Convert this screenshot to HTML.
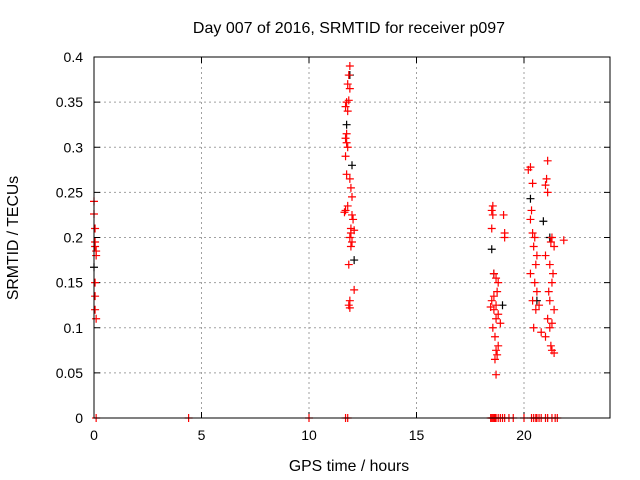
<!DOCTYPE html>
<html><head><meta charset="utf-8"><style>body{margin:0;background:#fff}svg{display:block;font-family:"Liberation Sans",sans-serif}</style></head>
<body>
<svg id="chart" width="640" height="480">
<text x="349" y="33" text-anchor="middle" font-size="16">Day 007 of 2016, SRMTID for receiver p097</text>
<text x="349" y="471" text-anchor="middle" font-size="15.8">GPS time / hours</text>
<text transform="translate(18,238) rotate(-90)" text-anchor="middle" font-size="15.8">SRMTID / TECUs</text>
<g id="grid"></g><g id="ticks"></g><g id="marks"></g>
<rect x="94" y="57" width="516" height="361" fill="none" stroke="#000"/>
</svg>
<script>
const xTicks=[0,5,10,15,20];
const yTicks=[0,0.05,0.1,0.15,0.2,0.25,0.3,0.35,0.4];
const yTickLabels=["0","0.05","0.1","0.15","0.2","0.25","0.3","0.35","0.4"];
const redHours=[0,0,0.05,0.05,0.05,0.1,0.1,0.05,0.05,0.05,0.1,
11.9,11.85,11.8,11.9,11.85,11.75,11.7,11.8,11.75,11.7,11.75,11.8,11.7,11.75,11.9,11.95,12.0,11.8,11.7,11.65,12.0,12.05,11.95,12.1,11.95,11.9,12.0,11.95,11.85,12.1,11.9,11.85,11.9,
18.55,18.5,18.55,18.5,18.6,18.7,18.8,18.75,18.6,18.5,18.7,18.6,18.8,18.7,18.9,18.55,18.65,18.8,18.7,18.75,18.65,18.7,18.45,19.05,19.1,19.1,
20.3,20.2,20.4,20.35,20.3,20.4,20.5,20.45,20.6,20.55,20.3,20.5,20.6,20.4,20.7,20.55,20.45,20.8,
21.1,21.05,21.0,21.1,21.3,21.25,21.4,21.0,21.2,21.35,21.3,21.15,21.2,21.4,21.1,21.3,21.2,21.0,21.25,21.3,21.4,21.85];
const redValues=[0.24,0.226,0.21,0.195,0.19,0.185,0.18,0.15,0.135,0.12,0.11,
0.39,0.38,0.37,0.365,0.352,0.35,0.345,0.34,0.315,0.31,0.305,0.3,0.29,0.27,0.265,0.255,0.245,0.235,0.23,0.228,0.225,0.22,0.21,0.208,0.205,0.2,0.195,0.19,0.17,0.142,0.13,0.125,0.122,
0.235,0.23,0.225,0.21,0.16,0.155,0.15,0.14,0.135,0.13,0.125,0.12,0.115,0.11,0.105,0.1,0.09,0.08,0.075,0.07,0.065,0.048,0.123,0.225,0.205,0.2,
0.278,0.275,0.26,0.23,0.22,0.205,0.2,0.19,0.18,0.17,0.16,0.15,0.14,0.13,0.125,0.12,0.1,0.095,
0.285,0.265,0.258,0.25,0.2,0.195,0.19,0.18,0.17,0.16,0.15,0.14,0.13,0.12,0.11,0.105,0.1,0.09,0.08,0.075,0.072,0.197];
const blackHours=[0.0,11.9,12.0,12.1,18.5,18.6,20.3,20.9,21.2,19.0,20.6,11.75];
const blackValues=[0.167,0.38,0.28,0.175,0.187,0.16,0.243,0.218,0.2,0.125,0.13,0.325];
const zeroHours=[0.1,4.4,10.0,11.7,11.8,18.45,18.5,18.55,18.6,18.65,18.7,18.8,18.9,19.0,19.1,19.3,19.5,20.0,20.35,20.45,20.55,20.6,20.7,20.8,21.0,21.1,21.3,21.45,21.55];
const X=h=>94+h*516/24, Y=v=>418-v*361/0.4;
const NS="http://www.w3.org/2000/svg";
function mk(t,a,p){const e=document.createElementNS(NS,t);for(const k in a)e.setAttribute(k,a[k]);document.getElementById(p).appendChild(e);return e;}
xTicks.forEach(t=>{const x=X(t);
 if(t>0){const g=mk('line',{x1:x,x2:x,y1:57,y2:418,stroke:'#a0a0a0','stroke-dasharray':'2,3'},'grid');
 
 }
 const l=mk('text',{x:x,y:440,'text-anchor':'middle','font-size':14},'ticks');l.textContent=t;
 
 
 mk('line',{x1:x,x2:x,y1:418,y2:412,stroke:'#000'},'ticks');mk('line',{x1:x,x2:x,y1:57,y2:63,stroke:'#000'},'ticks');});
yTicks.forEach((t,i)=>{const y=Y(t);
 if(t>0&&t<0.4){const g=mk('line',{x1:94,x2:610,y1:y,y2:y,stroke:'#a0a0a0','stroke-dasharray':'2,3'},'grid');
 
 }
 const l=mk('text',{x:83,y:y+5,'text-anchor':'end','font-size':14},'ticks');l.textContent=yTickLabels[i];
 
 
 mk('line',{x1:94,x2:100,y1:y,y2:y,stroke:'#000'},'ticks');mk('line',{x1:610,x2:604,y1:y,y2:y,stroke:'#000'},'ticks');});
function plus(h,v,c){const x=X(h),y=Y(v);
 const p=mk('path',{d:`M${x-4},${y}H${x+4}M${x},${y-4}V${y+4}`,stroke:c,'stroke-width':1.2},'marks');
 
 }
blackHours.forEach((h,i)=>plus(h,blackValues[i],'#000'));
redHours.forEach((h,i)=>plus(h,redValues[i],'#f00'));
zeroHours.forEach(h=>plus(h,0,'#f00'));
</script>
</body></html>
